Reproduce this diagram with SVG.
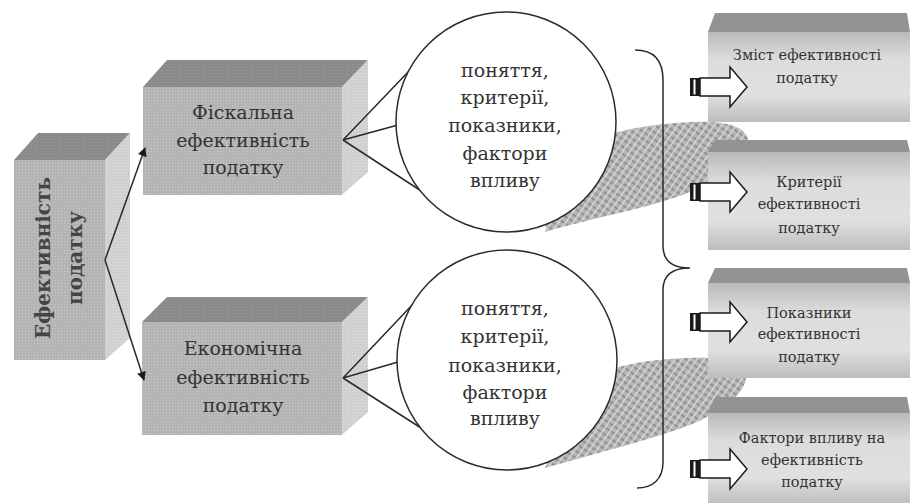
<svg xmlns="http://www.w3.org/2000/svg" width="917" height="503" viewBox="0 0 917 503">
<defs>
  <pattern id="dotsFront" width="3" height="3" patternUnits="userSpaceOnUse">
    <rect width="3" height="3" fill="#b4b4b4"/>
    <rect x="1" y="1" width="1" height="1" fill="#c8c8c8"/>
  </pattern>
  <pattern id="dotsSide" width="3" height="3" patternUnits="userSpaceOnUse">
    <rect width="3" height="3" fill="#d0d0d0"/>
    <rect x="1" y="1" width="1" height="1" fill="#e0e0e0"/>
  </pattern>
  <pattern id="dotsTop" width="3" height="3" patternUnits="userSpaceOnUse">
    <rect width="3" height="3" fill="#8a8a8a"/>
    <rect x="1" y="1" width="1" height="1" fill="#9a9a9a"/>
  </pattern>
  <pattern id="hatch" width="6" height="6" patternUnits="userSpaceOnUse" patternTransform="rotate(35)">
    <rect width="6" height="6" fill="#b4b4b4"/>
    <path d="M0,3 H6" stroke="#858585" stroke-width="1.5"/>
    <path d="M3,0 V6" stroke="#dedede" stroke-width="1.4"/>
  </pattern>
  <linearGradient id="rgrad" x1="0" y1="0" x2="0" y2="1">
    <stop offset="0" stop-color="#bababa"/>
    <stop offset="0.3" stop-color="#dcdcdc"/>
    <stop offset="0.7" stop-color="#e0e0e0"/>
    <stop offset="1" stop-color="#bdbdbd"/>
  </linearGradient>
  <marker id="ah" viewBox="0 0 10 10" refX="9" refY="5" markerWidth="6.5" markerHeight="6" orient="auto-start-reverse" markerUnits="strokeWidth">
    <path d="M0,0 L10,5 L0,10 Z" fill="#1a1a1a"/>
  </marker>
</defs>
<style>
  .t { font-family: "DejaVu Serif", "Liberation Serif", serif; fill: #333333; text-anchor: middle; dominant-baseline: central; }
  .big { font-size: 19px; }
  .vert { font-size: 20px; font-weight: bold; fill: #444444; }
  .circ { font-size: 19px; }
  .small { font-size: 14.5px; }
  .front { fill: url(#dotsFront); }
  .side { fill: url(#dotsSide); }
  .top { fill: url(#dotsTop); }
  .rtop { fill: #939393; }
  .rfront { fill: url(#rgrad); }
  .line { stroke: #2a2a2a; stroke-width: 1.5; fill: none; }
  .bubble { fill: #ffffff; stroke: #2a2a2a; stroke-width: 1.5; }
  .arrow { fill: #ffffff; stroke: #1a1a1a; stroke-width: 1.5; }
  .hatchshape { fill: url(#hatch); }
</style>
<rect width="917" height="503" fill="#ffffff"/>

<!-- hatched shadows -->
<g id="shadows">
  <path class="hatchshape" d="M545,232 C600,216 650,208 690,192 C722,178 752,156 748,139 C744,124 720,121 690,122 C650,124 620,130 590,140 L560,150 Z"/>
  <path class="hatchshape" d="M545,468 C600,452 650,440 690,425 C725,410 752,390 745,370 C738,356 700,357 670,359 C640,361 620,366 590,375 Z"/>
</g>

<!-- left box -->
<g id="node-main">
  <polygon class="top" points="14,160 38,133 130,133 105,160"/>
  <polygon class="side" points="105,160 130,133 130,338 105,360"/>
  <rect class="front" x="14" y="160" width="91" height="200"/>
  <text class="t vert" transform="translate(43,258) rotate(-90)">Ефективність</text>
  <text class="t vert" transform="translate(75,258) rotate(-90)">податку</text>
</g>

<!-- fiscal box -->
<g id="node-fiscal">
  <polygon class="top" points="143,87 167,60 368,60 342,87"/>
  <polygon class="side" points="342,87 368,60 368,172 342,195"/>
  <rect class="front" x="143" y="87" width="199" height="108"/>
  <text class="t big" x="243" y="112">Фіскальна</text>
  <text class="t big" x="243" y="140">ефективність</text>
  <text class="t big" x="243" y="167">податку</text>
</g>

<!-- economic box -->
<g id="node-economic">
  <polygon class="top" points="142,322 167,297 368,297 342,322"/>
  <polygon class="side" points="342,322 368,297 368,412 342,435"/>
  <rect class="front" x="142" y="322" width="200" height="113"/>
  <text class="t big" x="243" y="348">Економічна</text>
  <text class="t big" x="243" y="377">ефективність</text>
  <text class="t big" x="243" y="405">податку</text>
</g>

<!-- right boxes -->
<g id="node-r1">
  <polygon class="rtop" points="708,32 715,13 907,13 910,32"/>
  <rect class="rfront" x="708" y="32" width="202" height="90"/>
  <text class="t small" x="807" y="55">Зміст ефективності</text>
  <text class="t small" x="807" y="78">податку</text>
</g>
<g id="node-r2">
  <polygon class="rtop" points="708,152 715,140 907,140 910,152"/>
  <rect class="rfront" x="708" y="152" width="202" height="98"/>
  <text class="t small" x="809" y="182">Критерії</text>
  <text class="t small" x="809" y="204">ефективності</text>
  <text class="t small" x="809" y="228">податку</text>
</g>
<g id="node-r3">
  <polygon class="rtop" points="708,283 715,268 907,268 910,283"/>
  <rect class="rfront" x="708" y="283" width="202" height="95"/>
  <text class="t small" x="809" y="313">Показники</text>
  <text class="t small" x="809" y="334">ефективності</text>
  <text class="t small" x="809" y="357">податку</text>
</g>
<g id="node-r4">
  <polygon class="rtop" points="708,413 715,397 907,397 910,413"/>
  <rect class="rfront" x="708" y="413" width="202" height="92"/>
  <text class="t small" x="812" y="438">Фактори впливу на</text>
  <text class="t small" x="812" y="460">ефективність</text>
  <text class="t small" x="812" y="482">податку</text>
</g>

<!-- connectors -->
<g id="connectors">
  <line class="line" x1="105" y1="260" x2="145" y2="148" marker-end="url(#ah)" stroke-width="2"/>
  <line class="line" x1="105" y1="260" x2="144" y2="380" marker-end="url(#ah)" stroke-width="2"/>
  <path class="line" d="M343,140 L432,47 M343,140 L398,125 M343,140 L432,198"/>
  <path class="line" d="M343,378 L432,284 M343,378 L398,362 M343,378 L432,435"/>
  <path class="line" d="M635,50 C652,50 663,58 663,80 L663,246 C663,260 672,268 690,268 C672,268 663,276 663,290 L663,462 C663,480 652,488 637,488"/>
  <g id="arrows">
    <g>
      <path class="arrow" d="M700,78 L730,78 L730,67 L747,87 L730,107 L730,96 L700,96 Z"/>
      <rect x="690" y="78" width="10" height="18" fill="#1a1a1a"/>
      <rect x="693.5" y="79.5" width="2" height="15" fill="#ffffff"/>
    </g>
    <g transform="translate(0,105)">
      <path class="arrow" d="M700,78 L730,78 L730,67 L747,87 L730,107 L730,96 L700,96 Z"/>
      <rect x="690" y="78" width="10" height="18" fill="#1a1a1a"/>
      <rect x="693.5" y="79.5" width="2" height="15" fill="#ffffff"/>
    </g>
    <g transform="translate(0,235)">
      <path class="arrow" d="M700,78 L730,78 L730,67 L747,87 L730,107 L730,96 L700,96 Z"/>
      <rect x="690" y="78" width="10" height="18" fill="#1a1a1a"/>
      <rect x="693.5" y="79.5" width="2" height="15" fill="#ffffff"/>
    </g>
    <g transform="translate(0,382)">
      <path class="arrow" d="M700,78 L730,78 L730,67 L747,87 L730,107 L730,96 L700,96 Z"/>
      <rect x="690" y="78" width="10" height="18" fill="#1a1a1a"/>
      <rect x="693.5" y="79.5" width="2" height="15" fill="#ffffff"/>
    </g>
  </g>
</g>

<!-- bubbles -->
<g id="node-bubble1">
  <circle class="bubble" cx="506" cy="122" r="110"/>
  <text class="t circ" x="505" y="70">поняття,</text>
  <text class="t circ" x="505" y="97">критерії,</text>
  <text class="t circ" x="505" y="125">показники,</text>
  <text class="t circ" x="505" y="153">фактори</text>
  <text class="t circ" x="505" y="180">впливу</text>
</g>
<g id="node-bubble2">
  <circle class="bubble" cx="507" cy="360" r="110"/>
  <text class="t circ" x="505" y="308">поняття,</text>
  <text class="t circ" x="505" y="336">критерії,</text>
  <text class="t circ" x="505" y="365">показники,</text>
  <text class="t circ" x="505" y="392">фактори</text>
  <text class="t circ" x="505" y="418">впливу</text>
</g>
</svg>
